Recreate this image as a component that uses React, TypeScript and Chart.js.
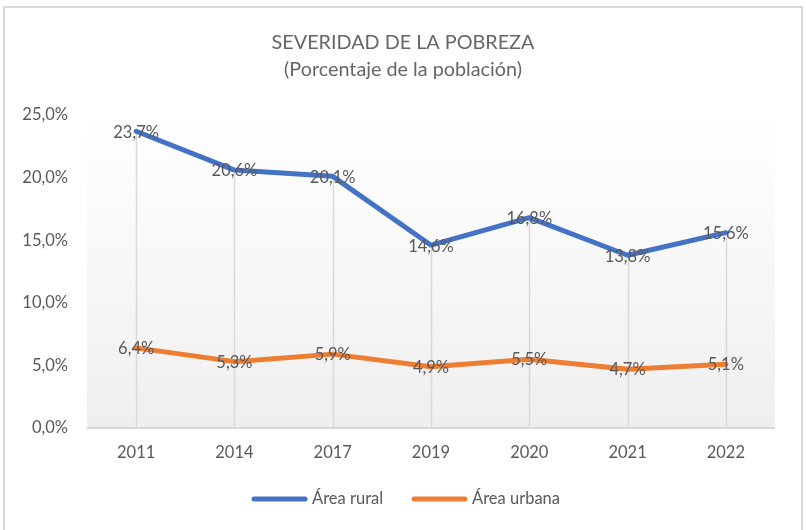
import React, { useEffect, useRef } from "react";
import { Chart, registerables } from "chart.js";

Chart.register(...registerables);

const years = ["2011", "2014", "2017", "2019", "2020", "2021", "2022"];
const rural = [23.7, 20.6, 20.1, 14.6, 16.8, 13.8, 15.6];
const urbana = [6.4, 5.3, 5.9, 4.9, 5.5, 4.7, 5.1];
const seriesNames = ["Área rural", "Área urbana"];
const titleLines = ["SEVERIDAD DE LA POBREZA", "(Porcentaje de la población)"];

const FONT = "Lato, 'Open Sans', sans-serif";
const TEXT = "#595959";

const fmt = (v: number) => v.toFixed(1).replace(".", ",") + "%";

const framePlugin = {
  id: "frame",
  beforeDraw(chart: any) {
    const { ctx, chartArea, width, height } = chart;
    ctx.save();
    ctx.fillStyle = "#ffffff";
    ctx.fillRect(0, 0, width, height);
    ctx.strokeStyle = "#d9d9d9";
    ctx.lineWidth = 2;
    ctx.strokeRect(4, 7, 798, height + 10);
    const g = ctx.createLinearGradient(0, chartArea.top, 0, chartArea.bottom);
    g.addColorStop(0, "#ffffff");
    g.addColorStop(1, "#efefef");
    ctx.fillStyle = g;
    ctx.fillRect(chartArea.left, chartArea.top, chartArea.right - chartArea.left, chartArea.bottom - chartArea.top);
    ctx.fillStyle = "#666666";
    ctx.textAlign = "center";
    ctx.textBaseline = "middle";
    ctx.font = `19.8px ${FONT}`;
    ctx.fillText(titleLines[0], 403, 43);
    ctx.fillText(titleLines[1], 403, 70);
    ctx.restore();
  },
  beforeDatasetsDraw(chart: any) {
    const { ctx, chartArea } = chart;
    const m0 = chart.getDatasetMeta(0);
    const m1 = chart.getDatasetMeta(1);
    ctx.save();
    ctx.strokeStyle = "#d9d9d9";
    ctx.lineWidth = 1.5;
    m0.data.forEach((p: any, i: number) => {
      const q = m1.data[i];
      const top = Math.min(p.y, q.y);
      ctx.beginPath();
      ctx.moveTo(Math.round(p.x) + 0.5, top);
      ctx.lineTo(Math.round(p.x) + 0.5, chartArea.bottom);
      ctx.stroke();
    });
    ctx.strokeStyle = "#d9d9d9";
    ctx.lineWidth = 2;
    ctx.beginPath();
    ctx.moveTo(chartArea.left, chartArea.bottom);
    ctx.lineTo(chartArea.right, chartArea.bottom);
    ctx.stroke();
    ctx.restore();
  },
  afterDatasetsDraw(chart: any) {
    const { ctx } = chart;
    ctx.save();
    ctx.fillStyle = TEXT;
    ctx.textAlign = "center";
    ctx.textBaseline = "middle";
    ctx.font = `16.5px ${FONT}`;
    chart.data.datasets.forEach((ds: any, di: number) => {
      const meta = chart.getDatasetMeta(di);
      meta.data.forEach((p: any, i: number) => {
        ctx.fillText(fmt(ds.data[i]), p.x, p.y + 1);
      });
    });
    const items = chart.data.datasets.map((ds: any) => ({ label: ds.label, color: ds.borderColor }));
    const lx = [254, 414];
    ctx.textAlign = "left";
    ctx.lineCap = "round";
    items.forEach((it: any, i: number) => {
      ctx.strokeStyle = it.color;
      ctx.lineWidth = 5;
      ctx.beginPath();
      ctx.moveTo(lx[i], 499);
      ctx.lineTo(lx[i] + 51, 499);
      ctx.stroke();
      ctx.fillStyle = TEXT;
      ctx.fillText(it.label, lx[i] + 58, 499);
    });
    ctx.restore();
  },
};

export default function App() {
  const ref = useRef<HTMLCanvasElement>(null);
  useEffect(() => {
    document.body.style.margin = "0";
    const chart = new Chart(ref.current!, {
      type: "line",
      data: {
        labels: years,
        datasets: [
          { label: seriesNames[0], data: rural, borderColor: "#4472C4", backgroundColor: "#4472C4", borderWidth: 5, pointRadius: 0, tension: 0, borderCapStyle: "round", borderJoinStyle: "round" },
          { label: seriesNames[1], data: urbana, borderColor: "#ED7D31", backgroundColor: "#ED7D31", borderWidth: 5, pointRadius: 0, tension: 0, borderCapStyle: "round", borderJoinStyle: "round" },
        ],
      },
      options: {
        responsive: false,
        animation: false,
        layout: { padding: { top: 115, right: 31, left: 0, bottom: 0 } },
        plugins: { legend: { display: false }, title: { display: false }, tooltip: { enabled: false } },
        scales: {
          x: {
            offset: true,
            grid: { display: false, drawTicks: false },
            border: { display: false },
            ticks: { color: TEXT, font: { family: FONT, size: 16.5 }, padding: 15 },
            afterFit: (s: any) => { s.height = 102; },
          },
          y: {
            min: 0,
            max: 25,
            grid: { display: false, drawTicks: false },
            border: { display: false },
            ticks: { stepSize: 5, color: TEXT, font: { family: FONT, size: 16.5 }, padding: 19, callback: (v: any) => fmt(Number(v)) },
            afterFit: (s: any) => { s.width = 87; },
          },
        },
      },
      plugins: [framePlugin],
    });
    return () => chart.destroy();
  }, []);
  return <canvas ref={ref} width={806} height={530} style={{ display: "block" }} />;
}
